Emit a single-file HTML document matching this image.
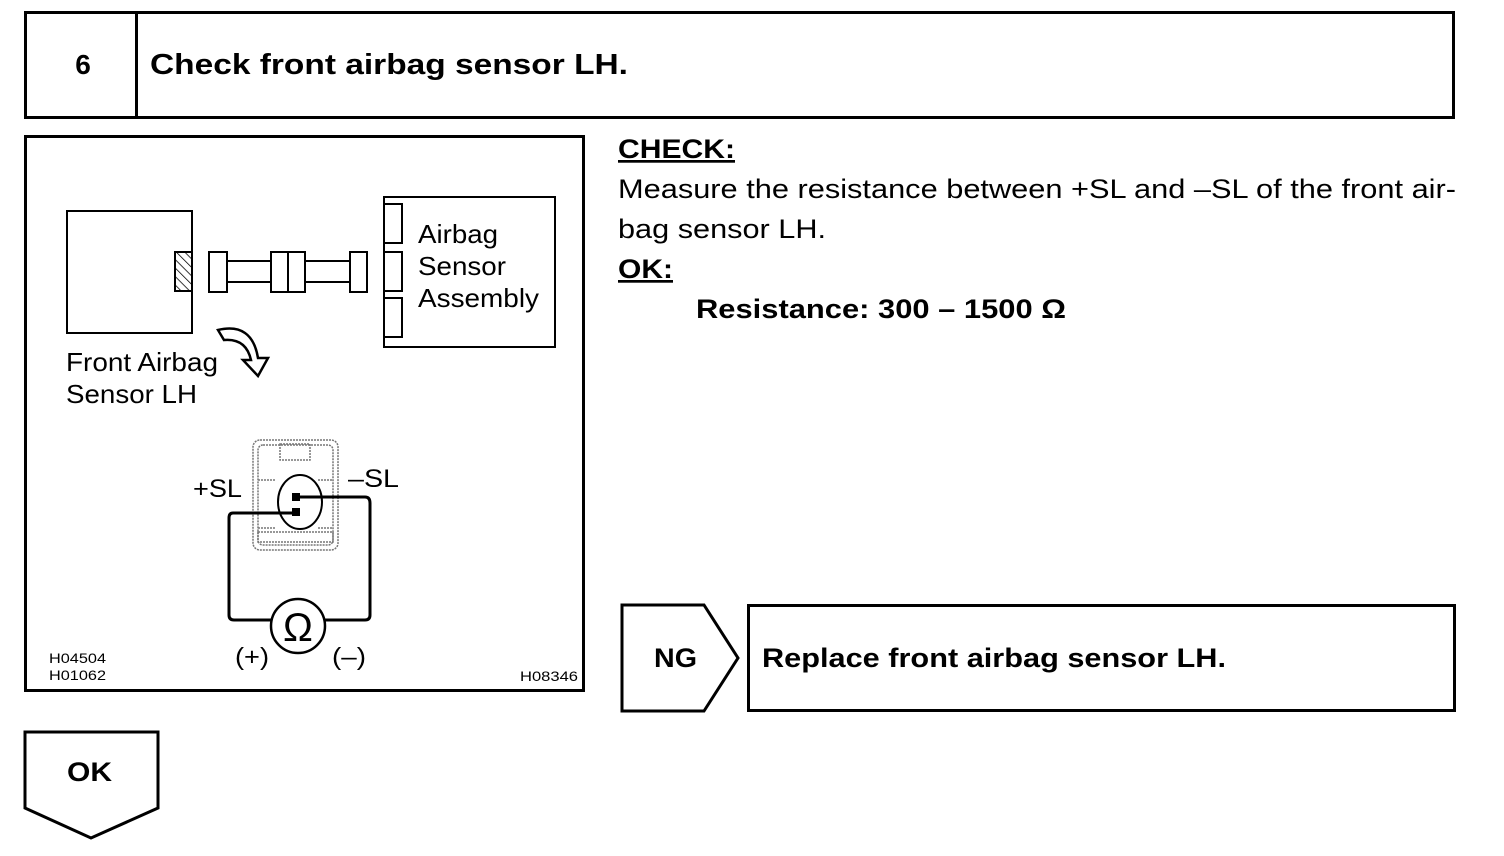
<!DOCTYPE html>
<html><head><meta charset="utf-8"><style>
html,body{margin:0;padding:0;background:#fff;}
svg{display:block;font-family:"Liberation Sans",Arial,sans-serif;}
</style></head><body>
<svg width="1504" height="856" viewBox="0 0 1504 856" xmlns="http://www.w3.org/2000/svg">
<defs>
<pattern id="h" width="6" height="6" patternUnits="userSpaceOnUse" patternTransform="rotate(-45)"><line x1="0" y1="0" x2="0" y2="6" stroke="#000" stroke-width="1.5"/></pattern>
</defs>
<rect x="25.5" y="12.5" width="1428" height="105" fill="none" stroke="#000" stroke-width="3"/>
<line x1="136.5" y1="12" x2="136.5" y2="118" stroke="#000" stroke-width="3"/>
<text x="83" y="74" font-size="28" font-weight="bold" text-anchor="middle">6</text>
<text x="150" y="74" font-size="29" font-weight="bold" textLength="478" lengthAdjust="spacingAndGlyphs">Check front airbag sensor LH.</text>

<rect x="25.5" y="136.5" width="558" height="554" fill="none" stroke="#000" stroke-width="3"/>
<g fill="none" stroke="#000" stroke-width="2">
<rect x="67" y="211" width="125" height="122"/>
<rect x="175" y="252" width="17" height="39" fill="url(#h)"/>
<rect x="209" y="252" width="18" height="40"/>
<rect x="227" y="261" width="44" height="21"/>
<rect x="271" y="252" width="34" height="40"/>
<line x1="288" y1="252" x2="288" y2="292"/>
<rect x="305" y="261" width="45" height="21"/>
<rect x="350" y="252" width="17" height="40"/>
<rect x="384" y="197" width="171" height="150"/>
<rect x="384" y="204" width="18" height="39"/>
<rect x="384" y="252" width="18" height="39"/>
<rect x="384" y="298" width="18" height="39"/>
<path d="M218 330 Q252 322 258 358 L268 358 L258 376 L243 360 L251 360 Q246 338 224 340 Z" stroke-width="2.5"/>
</g>
<g font-size="26">
<text x="418" y="243" textLength="80" lengthAdjust="spacingAndGlyphs">Airbag</text>
<text x="418" y="275" textLength="88" lengthAdjust="spacingAndGlyphs">Sensor</text>
<text x="418" y="307" textLength="121" lengthAdjust="spacingAndGlyphs">Assembly</text>
<text x="66" y="371" textLength="152" lengthAdjust="spacingAndGlyphs">Front Airbag</text>
<text x="66" y="403" textLength="131" lengthAdjust="spacingAndGlyphs">Sensor LH</text>
</g>
<g fill="none" stroke="#777" stroke-width="1.5" stroke-dasharray="2 1">
<rect x="253" y="440" width="85" height="110" rx="7"/>
<rect x="258" y="445" width="75" height="100" rx="5"/>
<rect x="280" y="444" width="30" height="16"/>
<rect x="258" y="532" width="75" height="10"/>
<path d="M258 480 H275 M318 480 H333 M258 528 H275 M318 528 H333"/>
</g>
<ellipse cx="300" cy="502" rx="22" ry="27" fill="none" stroke="#000" stroke-width="2"/>
<g fill="none" stroke="#000" stroke-width="3">
<path d="M296 513 H233 Q229 513 229 518 V615 Q229 620 234 620 H272"/>
<path d="M324 620 H365 Q370 620 370 615 V503 Q370 497 365 497 H296"/>
</g>
<rect x="292" y="493" width="8" height="8" fill="#000"/>
<rect x="292" y="508" width="8" height="8" fill="#000"/>
<circle cx="298" cy="626" r="27" fill="#fff" stroke="#000" stroke-width="2.5"/>
<text x="298" y="641" font-size="40" text-anchor="middle">Ω</text>
<g font-size="25">
<text x="193" y="497" textLength="49" lengthAdjust="spacingAndGlyphs">+SL</text>
<text x="348" y="487" textLength="51" lengthAdjust="spacingAndGlyphs">–SL</text>
<text x="235" y="665" textLength="34" lengthAdjust="spacingAndGlyphs">(+)</text>
<text x="332" y="665" textLength="34" lengthAdjust="spacingAndGlyphs">(–)</text>
</g>
<g font-size="14">
<text x="49" y="663" textLength="57" lengthAdjust="spacingAndGlyphs">H04504</text>
<text x="49" y="680" textLength="57" lengthAdjust="spacingAndGlyphs">H01062</text>
<text x="520" y="681" textLength="58" lengthAdjust="spacingAndGlyphs">H08346</text>
</g>

<g font-size="27">
<text x="618" y="158" font-weight="bold" text-decoration="underline" textLength="117" lengthAdjust="spacingAndGlyphs">CHECK:</text>
<text x="618" y="198" textLength="838" lengthAdjust="spacingAndGlyphs">Measure the resistance between +SL and –SL of the front air-</text>
<text x="618" y="238" textLength="208" lengthAdjust="spacingAndGlyphs">bag sensor LH.</text>
<text x="618" y="278" font-weight="bold" text-decoration="underline" textLength="55" lengthAdjust="spacingAndGlyphs">OK:</text>
<text x="696" y="318" font-weight="bold" textLength="370" lengthAdjust="spacingAndGlyphs">Resistance: 300 – 1500 Ω</text>
</g>

<path d="M622 605 H704 L738 658 L704 711 H622 Z" fill="none" stroke="#000" stroke-width="3"/>
<text x="654" y="667" font-size="27" font-weight="bold" textLength="43" lengthAdjust="spacingAndGlyphs">NG</text>
<rect x="748.5" y="605.5" width="706" height="105" fill="none" stroke="#000" stroke-width="3"/>
<text x="762" y="667" font-size="27" font-weight="bold" textLength="464" lengthAdjust="spacingAndGlyphs">Replace front airbag sensor LH.</text>

<path d="M25 732 H158 V808 L91 838 L25 808 Z" fill="none" stroke="#000" stroke-width="3"/>
<text x="67" y="781" font-size="27" font-weight="bold" textLength="45" lengthAdjust="spacingAndGlyphs">OK</text>
</svg>
</body></html>
